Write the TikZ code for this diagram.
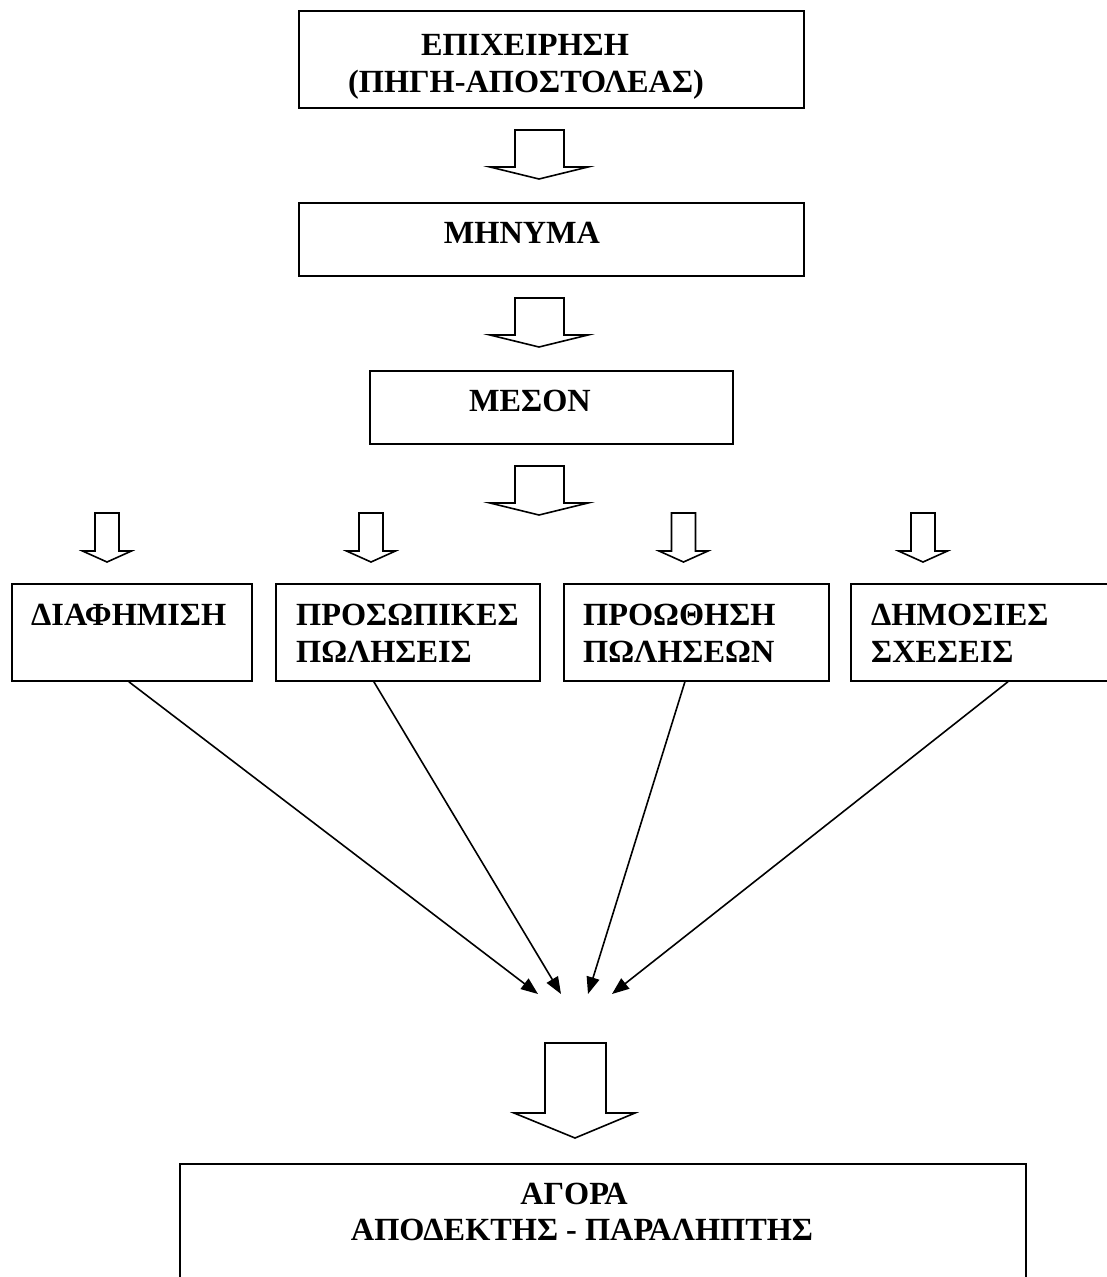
\documentclass[tikz,border=0pt]{standalone}
\usepackage{fontspec}
\setmainfont{Liberation Serif}
\usetikzlibrary{arrows.meta}
\begin{document}
\begin{tikzpicture}[x=1pt,y=-1pt,
  box/.style={draw,line width=1.8pt,rectangle,inner sep=0pt,anchor=north west},
  txt/.style={inner sep=0pt,font=\bfseries\fontsize{32.3}{37}\selectfont},
  barrow/.style={draw,line width=1.6pt,line join=miter,fill=white},
  conn/.style={line width=1.6pt,-{Triangle[length=17pt,width=13pt]}}]
\useasboundingbox (0,0) rectangle (1107,1277);
\clip (0,0) rectangle (1107,1277);
% top chain
\node[box,minimum width=505pt,minimum height=97pt] (src) at (298,10) {};
\node[txt,anchor=base] (srcA) at (525,55) {ΕΠΙΧΕΙΡΗΣΗ};
\node[txt,anchor=base] (srcB) at (526,92) {(ΠΗΓΗ-ΑΠΟΣΤΟΛΕΑΣ)};
\draw[barrow] (515,130) -- (564,130) -- (564,167) -- (588,167) -- (539,179) -- (490,167) -- (515,167) -- cycle;
\node[box,minimum width=505pt,minimum height=73pt] (msg) at (298,202) {};
\node[txt,anchor=base] (msgA) at (522,243) {ΜΗΝΥΜΑ};
\draw[barrow] (515,298) -- (564,298) -- (564,335) -- (588,335) -- (539,347) -- (490,335) -- (515,335) -- cycle;
\node[box,minimum width=363pt,minimum height=73pt] (med) at (369,370) {};
\node[txt,anchor=base] (medA) at (530,411) {ΜΕΣΟΝ};
\draw[barrow] (515,466) -- (564,466) -- (564,503) -- (588,503) -- (539,515) -- (490,503) -- (515,503) -- cycle;
% small arrows
\foreach \c in {107,371,683.5,923}{
  \draw[barrow] (\c-12,513) -- (\c+12,513) -- (\c+12,551) -- (\c+24.5,551) -- (\c,562) -- (\c-24.5,551) -- (\c-12,551) -- cycle;
}
% row of boxes
\node[box,minimum width=240pt,minimum height=97pt] (adv) at (11,583) {};
\node[txt,anchor=base west] (advA) at (31,625) {ΔΙΑΦΗΜΙΣΗ};
\node[box,minimum width=264pt,minimum height=97pt] (pers) at (275,583) {};
\node[txt,anchor=base west] (persA) at (296,625) {ΠΡΟΣΩΠΙΚΕΣ};
\node[txt,anchor=base west] (persB) at (296,662) {ΠΩΛΗΣΕΙΣ};
\node[box,minimum width=265pt,minimum height=97pt] (prom) at (563,583) {};
\node[txt,anchor=base west] (promA) at (583,625) {ΠΡΟΩΘΗΣΗ};
\node[txt,anchor=base west] (promB) at (583,662) {ΠΩΛΗΣΕΩΝ};
\node[box,minimum width=265pt,minimum height=97pt] (pr) at (850,583) {};
\node[txt,anchor=base west] (prA) at (871,625) {ΔΗΜΟΣΙΕΣ};
\node[txt,anchor=base west] (prB) at (871,662) {ΣΧΕΣΕΙΣ};
% converging arrows
\coordinate (tA) at (538,994);
\coordinate (tB) at (561,994);
\coordinate (tC) at (588,994);
\coordinate (tD) at (612,994);
\draw[conn] ([xshift=-3pt]adv.south) -- (tA);
\draw[conn] ([xshift=-34pt]pers.south) -- (tB);
\draw[conn] ([xshift=-11.5pt]prom.south) -- (tC);
\draw[conn] ([xshift=24.5pt]pr.south) -- (tD);
% final arrow and box
\draw[barrow] (545,1043) -- (606,1043) -- (606,1113) -- (635,1113) -- (575,1138) -- (514,1113) -- (545,1113) -- cycle;
\node[box,minimum width=846pt,minimum height=140pt] (mkt) at (179,1163) {};
\node[txt,anchor=base] (mktA) at (574,1204) {ΑΓΟΡΑ};
\node[txt,anchor=base] (mktB) at (582,1240) {ΑΠΟΔΕΚΤΗΣ - ΠΑΡΑΛΗΠΤΗΣ};
\end{tikzpicture}
\end{document}
